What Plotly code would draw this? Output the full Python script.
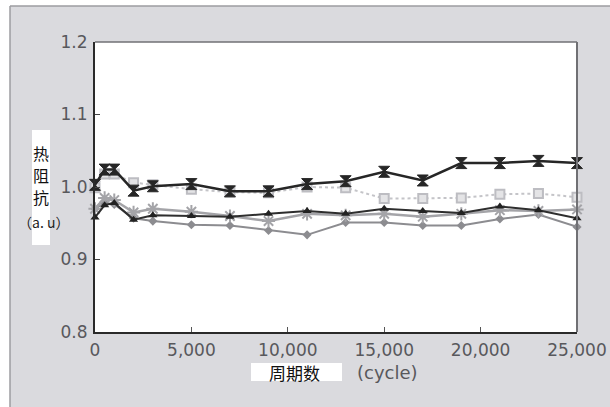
import plotly.graph_objects as go

# ---- data ----
cycles = [0, 500, 1000, 2000, 3000, 5000, 7000, 9000, 11000, 13000, 15000, 17000, 19000, 21000, 23000, 25000]
s_hourglass = [1.003, 1.024, 1.024, 0.995, 1.001, 1.004, 0.994, 0.994, 1.004, 1.008, 1.021, 1.009, 1.033, 1.033, 1.036, 1.033]
s_square = [0.999, 1.018, 1.018, 1.006, 1.003, 0.997, 0.993, 0.992, 1.000, 0.999, 0.984, 0.984, 0.985, 0.990, 0.991, 0.986]
s_triangle = [0.958, 0.975, 0.978, 0.955, 0.961, 0.960, 0.959, 0.963, 0.967, 0.963, 0.970, 0.967, 0.964, 0.973, 0.968, 0.957]
s_star = [0.970, 0.985, 0.982, 0.965, 0.970, 0.966, 0.960, 0.953, 0.963, 0.961, 0.963, 0.959, 0.963, 0.968, 0.967, 0.969]
s_diamond = [0.970, 0.978, 0.976, 0.957, 0.953, 0.948, 0.947, 0.940, 0.934, 0.951, 0.951, 0.947, 0.947, 0.956, 0.962, 0.945]

x_ticks = [0, 5000, 10000, 15000, 20000, 25000]
x_ticklabels = ["0", "5,000", "10,000", "15,000", "20,000", "25,000"]
y_ticks = [0.8, 0.9, 1.0, 1.1, 1.2]
y_ticklabels = ["0.8", "0.9", "1.0", "1.1", "1.2"]

y_title_chars = ["热", "阻", "抗"]
y_title_unit = "（a. u）"
x_title_cn = "周期数"
x_title_en = "(cycle)"

# ---- layout geometry ----
W, H = 610, 407
L, R, T, B = 95, 33, 42, 75
PW, PH = W - L - R, H - T - B


def px(x):
    return (x - L) / PW


def py(y):
    return (H - B - y) / PH


fig = go.Figure()

fig.add_trace(go.Scatter(
    x=cycles, y=s_square, mode="lines+markers",
    line=dict(color="#c4c4c8", width=2, dash="dot"),
    marker=dict(symbol="square", size=9, color="#e4e4e6", line=dict(color="#bdbdc2", width=2)),
    cliponaxis=False, showlegend=False))
fig.add_trace(go.Scatter(
    x=cycles, y=s_diamond, mode="lines+markers",
    line=dict(color="#8c8c90", width=2),
    marker=dict(symbol="diamond", size=7, color="#8c8c90"),
    cliponaxis=False, showlegend=False))
fig.add_trace(go.Scatter(
    x=cycles, y=s_star, mode="lines+markers",
    line=dict(color="#a4a4a8", width=2.5),
    marker=dict(symbol="asterisk-open", size=11, color="#a4a4a8", line=dict(color="#a4a4a8", width=2)),
    cliponaxis=False, showlegend=False))
fig.add_trace(go.Scatter(
    x=cycles, y=s_triangle, mode="lines+markers",
    line=dict(color="#2e2e2e", width=2),
    marker=dict(symbol="triangle-up", size=8, color="#222222"),
    cliponaxis=False, showlegend=False))
fig.add_trace(go.Scatter(
    x=cycles, y=s_hourglass, mode="lines+markers",
    line=dict(color="#262626", width=2.5),
    marker=dict(symbol="hourglass", size=11, color="#262626", line=dict(color="#262626", width=1)),
    cliponaxis=False, showlegend=False))

shapes = [
    # white strips outside the scanned frame
    dict(type="rect", xref="paper", yref="paper", x0=px(0), x1=px(W), y0=py(6), y1=py(0),
         fillcolor="white", line=dict(width=0), layer="below"),
    dict(type="rect", xref="paper", yref="paper", x0=px(0), x1=px(10), y0=py(H), y1=py(0),
         fillcolor="white", line=dict(width=0), layer="below"),
    # frame lines
    dict(type="line", xref="paper", yref="paper", x0=px(10), x1=px(W), y0=py(6), y1=py(6),
         line=dict(color="#9c9ca0", width=1.5)),
    dict(type="line", xref="paper", yref="paper", x0=px(10), x1=px(10), y0=py(6), y1=py(H),
         line=dict(color="#9c9ca0", width=1.5)),
    # top / right plot border (grey)
    dict(type="line", xref="paper", yref="paper", x0=0, x1=1, y0=1, y1=1,
         line=dict(color="#707074", width=1.5)),
    dict(type="line", xref="paper", yref="paper", x0=1, x1=1, y0=0, y1=1,
         line=dict(color="#707074", width=2)),
    # white boxes behind axis titles
    dict(type="rect", xref="paper", yref="paper", x0=px(32), x1=px(50), y0=py(245), y1=py(130),
         fillcolor="white", line=dict(width=0)),
    dict(type="rect", xref="paper", yref="paper", x0=px(251), x1=px(342), y0=py(381), y1=py(363),
         fillcolor="white", line=dict(width=0)),
]

annotations = []
for ch, yy in zip(y_title_chars, [153, 175, 197]):
    annotations.append(dict(text=ch, xref="paper", yref="paper", x=px(41), y=py(yy),
                            xanchor="center", yanchor="middle", showarrow=False,
                            font=dict(family="Noto Sans CJK SC", size=16, color="#111")))
annotations.append(dict(text=y_title_unit, xref="paper", yref="paper", x=px(43), y=py(222),
                        xanchor="center", yanchor="middle", showarrow=False,
                        font=dict(family="Noto Sans CJK SC", size=14, color="#222")))
annotations.append(dict(text=x_title_cn, xref="paper", yref="paper", x=px(294), y=py(372),
                        xanchor="center", yanchor="middle", showarrow=False,
                        font=dict(family="Noto Sans CJK SC", size=17, color="#111")))
annotations.append(dict(text=x_title_en, xref="paper", yref="paper", x=px(387), y=py(372),
                        xanchor="center", yanchor="middle", showarrow=False,
                        font=dict(family="DejaVu Sans", size=18, color="#58585c")))

fig.update_layout(
    width=W, height=H,
    margin=dict(l=L, r=R, t=T, b=B, pad=0),
    paper_bgcolor="#dadade",
    plot_bgcolor="white",
    shapes=shapes,
    annotations=annotations,
    xaxis=dict(range=[0, 25000], tickvals=x_ticks, ticktext=x_ticklabels, automargin=False,
               showgrid=False, zeroline=False, showline=True, linecolor="#2a2a2a", linewidth=2,
               ticks="inside", ticklen=5, tickcolor="#555", tickwidth=1,
               ticklabelstandoff=2,
               tickfont=dict(family="DejaVu Sans", size=17, color="#58585c")),
    yaxis=dict(range=[0.8, 1.2], tickvals=y_ticks, ticktext=y_ticklabels, automargin=False,
               showgrid=False, zeroline=False, showline=True, linecolor="#2a2a2a", linewidth=2,
               ticks="inside", ticklen=5, tickcolor="#444", tickwidth=1,
               ticklabelstandoff=2,
               tickfont=dict(family="DejaVu Sans", size=17, color="#58585c")),
)

fig.write_html("out.html", config={"displayModeBar": False},
               post_script="document.body.style.margin='0';")
